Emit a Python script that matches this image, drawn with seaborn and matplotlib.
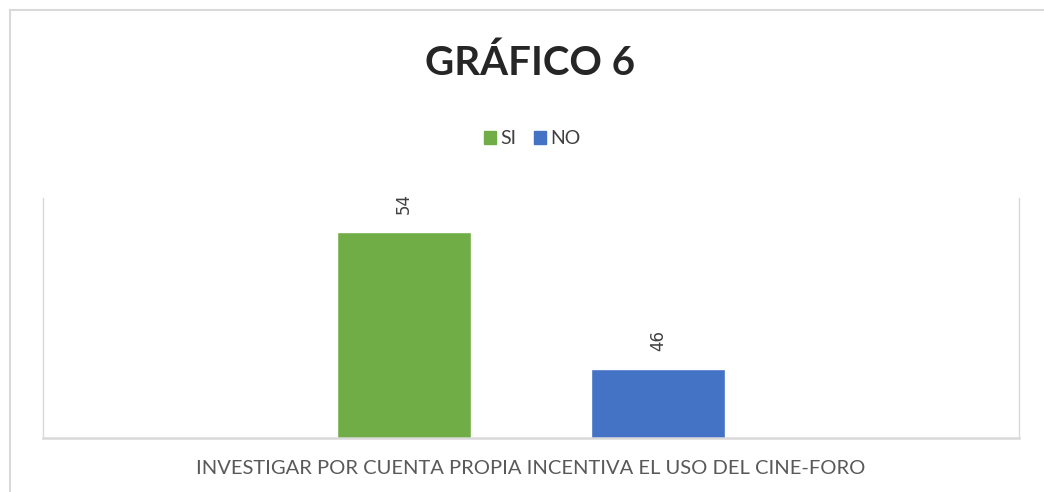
import pandas as pd
import matplotlib.pyplot as plt
import seaborn as sns
from matplotlib.lines import Line2D

categorias = ["INVESTIGAR POR CUENTA PROPIA INCENTIVA EL USO DEL CINE-FORO"]
series = ["SI", "NO"]
valores = [54, 46]
colores = ["#70AD47", "#4472C4"]

df = pd.DataFrame({
    "categoria": categorias * len(series),
    "serie": series,
    "valor": valores,
})

sns.set_style("white")
plt.rcParams["font.family"] = ["Lato", "DejaVu Sans"]

fig = plt.figure(figsize=(10.44, 4.92), dpi=100)
ax = fig.add_axes([43 / 1044, 1 - 438 / 492, (1019 - 43) / 1044, (438 - 198) / 492])

sns.barplot(data=df, x="categoria", y="valor", hue="serie", hue_order=series,
            palette=colores, width=0.52, gap=0.47, saturation=1,
            legend=False, ax=ax)

ax.set_xlim(-0.5, 0.5)
ax.set_ylim(42, 56)
ax.set_yticks([])
ax.set_ylabel("")
ax.set_xlabel("")
ax.tick_params(axis="x", length=0, pad=16, labelsize=14.5, labelcolor="#595959")

for side in ["left", "right", "bottom"]:
    ax.spines[side].set_visible(True)
    ax.spines[side].set_color("#d9d9d9")
    ax.spines[side].set_linewidth(1.0)
ax.spines["bottom"].set_linewidth(1.8)
ax.spines["top"].set_visible(False)

# etiquetas de datos
for cont in ax.containers:
    for bar in cont:
        h = bar.get_height()
        ax.annotate(f"{h:.0f}", (bar.get_x() + bar.get_width() / 2, h),
                    xytext=(0, 13), textcoords="offset points",
                    ha="center", va="bottom", rotation=90,
                    fontsize=12, color="#404040", family="DejaVu Sans")

# leyenda
handles = [plt.Rectangle((0, 0), 1, 1, color=c) for c in colores]
fig.legend(handles, series, loc="center", bbox_to_anchor=(532 / 1044, 1 - 139 / 492),
           ncol=2, frameon=False, fontsize=14, handlelength=0.65, handleheight=0.65,
           handletextpad=0.2, columnspacing=0.9, labelcolor="#404040")

fig.text(530 / 1044, 1 - 63 / 492, "GRÁFICO 6", ha="center", va="center",
         fontsize=29, fontweight="bold", color="#262626")

# borde exterior
fig.add_artist(Line2D([10 / 1044, 1], [1 - 10 / 492, 1 - 10 / 492],
                      transform=fig.transFigure, color="#d9d9d9", lw=1.5))
fig.add_artist(Line2D([10 / 1044, 10 / 1044], [0, 1 - 10 / 492],
                      transform=fig.transFigure, color="#d9d9d9", lw=1.5))

fig.savefig("out.png", dpi=100)
